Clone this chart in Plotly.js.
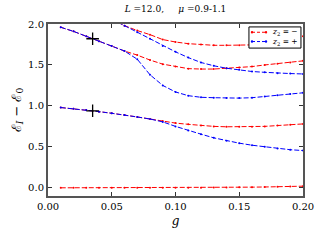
<!DOCTYPE html>
<html><head><meta charset="utf-8">
<script src="https://cdn.plot.ly/plotly-3.0.1.min.js"></script>
<style>body{margin:0;padding:0;background:#fff}#c{width:320px;height:240px}</style>
</head><body><div id="c"></div>
<script>
const g = [0.01,0.02,0.03,0.04,0.05,0.06,0.07,0.08,0.09,0.10,0.11,0.12,0.13,0.14,0.15,0.16,0.17,0.18,0.19,0.20];
// ground state (z2 = -)
const groundMinus = [0,0,0,0,0,0,0,0,0,0,0.001,0.002,0.003,0.005,0.006,0.008,0.010,0.013,0.016,0.020];
// first excited (degenerate at small g, then split)
const exc1Minus = [0.98,0.965,0.95,0.93,0.91,0.89,0.865,0.84,0.815,0.79,0.775,0.76,0.75,0.745,0.745,0.745,0.75,0.76,0.77,0.78];
const exc1Plus  = [0.98,0.965,0.95,0.93,0.91,0.89,0.865,0.84,0.805,0.75,0.70,0.655,0.61,0.575,0.545,0.52,0.50,0.48,0.465,0.455];
// second group
const exc2Minus = [1.96,1.91,1.85,1.79,1.73,1.67,1.62,1.56,1.51,1.48,1.455,1.45,1.45,1.46,1.47,1.48,1.50,1.515,1.53,1.55];
const exc2Plus  = [1.96,1.91,1.85,1.79,1.73,1.67,1.57,1.38,1.25,1.17,1.125,1.105,1.10,1.095,1.095,1.10,1.115,1.13,1.145,1.16];
// top curves entering from above
const gTop = [0.05,0.06,0.07,0.08,0.09,0.10,0.11,0.12,0.13,0.14,0.15,0.16,0.17,0.18,0.19,0.20];
const exc3Minus = [2.06,1.98,1.92,1.87,1.81,1.78,1.76,1.75,1.74,1.74,1.74,1.745,1.76,1.78,1.81,1.85];
const exc3Plus  = [2.06,1.98,1.90,1.82,1.73,1.66,1.59,1.53,1.49,1.46,1.44,1.42,1.41,1.40,1.395,1.39];
// marked points
const crossG = [0.035,0.035];
const crossE = [1.82,0.94];
// legend labels
const legendLabels = ['<i>z</i><sub>2</sub> = −', '<i>z</i><sub>2</sub> = +'];

const RED = '#ff0000', BLUE = '#0000ff';
const legendColors = [RED, BLUE];
function tr(x, y, color){
  return {x:x, y:y, type:'scatter', mode:'lines+markers', showlegend:false,
    line:{color:color, width:1, dash:'5px,2px'}, marker:{color:color, size:2}, cliponaxis:true};
}
const data = [
  tr(g, groundMinus, RED),
  tr(g, exc1Minus, RED),
  tr(g, exc2Minus, RED),
  tr(gTop, exc3Minus, RED),
  tr(g, exc1Plus, BLUE),
  tr(g, exc2Plus, BLUE),
  tr(gTop, exc3Plus, BLUE),
  {x:crossG, y:crossE, type:'scatter', mode:'markers', showlegend:false,
   marker:{symbol:'cross-thin', size:9, line:{color:'#000', width:1.3}, color:'#000'}}
];
const F = 'DejaVu Serif, serif';

// custom legend box (paper coordinates)
const shapes = [{type:'rect', xref:'paper', yref:'paper', x0:0.788, x1:0.992, y0:0.860, y1:0.983,
  line:{color:'#000', width:1}, fillcolor:'#fff', layer:'above'}];
const annotations = [];
const rowY = [0.952, 0.898];
legendLabels.forEach((lab, i) => {
  shapes.push({type:'line', xref:'paper', yref:'paper', x0:0.80, x1:0.855, y0:rowY[i], y1:rowY[i],
    line:{color:legendColors[i], width:1, dash:'3px,2px'}, layer:'above'});
  [0.80, 0.855].forEach(xp => shapes.push({type:'circle', xref:'paper', yref:'paper', xsizemode:'pixel', ysizemode:'pixel',
    xanchor:xp, yanchor:rowY[i], x0:-1.2, x1:1.2, y0:-1.2, y1:1.2, fillcolor:legendColors[i], line:{width:0}, layer:'above'}));
  annotations.push({xref:'paper', yref:'paper', x:0.87, y:rowY[i], xanchor:'left', yanchor:'middle', showarrow:false,
    text:lab, font:{family:F, size:7.5, color:'#000'}});
});

const axisCommon = {showgrid:false, zeroline:false, ticks:'inside', ticklen:4, tickwidth:1, tickcolor:'#333',
  showline:true, linecolor:'#555', linewidth:2, mirror:'allticks', tickfont:{family:F, size:10, color:'#000'}};
const layout = {
  width:320, height:240, margin:{l:48, r:17, t:24, b:44},
  paper_bgcolor:'#fff', plot_bgcolor:'#fff',
  title:{text:'<i>L</i> =12.0,     <i>μ</i> =0.9-1.1', font:{family:F, size:9, color:'#000'}, xref:'paper', x:0.5, xanchor:'center', y:0.975, yanchor:'top'},
  xaxis:Object.assign({}, axisCommon, {range:[0,0.2], tickvals:[0,0.05,0.1,0.15,0.2], tickformat:'.2f',
    title:{text:'<i>g</i>', font:{family:F, size:12, color:'#000'}, standoff:6}}),
  yaxis:Object.assign({}, axisCommon, {range:[-0.1,2.0], tickvals:[0,0.5,1,1.5,2], tickformat:'.1f',
    title:{text:'ℰ<sub><i>I</i></sub> − ℰ<sub>0</sub>', font:{family:F, size:13, color:'#000'}, standoff:4}}),
  shapes:shapes, annotations:annotations,
  showlegend:false
};
Plotly.newPlot('c', data, layout, {staticPlot:true, displayModeBar:false});
</script></body></html>
